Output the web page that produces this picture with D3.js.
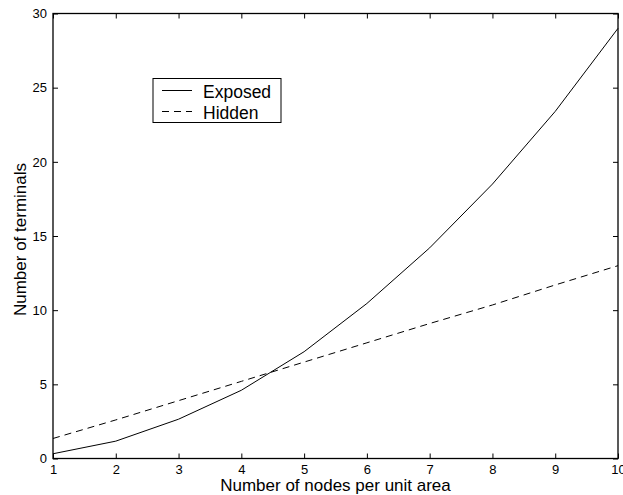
<!DOCTYPE html>
<html>
<head>
<meta charset="utf-8">
<script src="https://cdn.jsdelivr.net/npm/d3@7"></script>
<style>
  body { margin: 0; background: #fff; }
  text { font-family: "Liberation Sans", Arial, sans-serif; fill: #000; }
</style>
</head>
<body>
<div id="chart"></div>
<script>
const nodes = [1, 2, 3, 4, 5, 6, 7, 8, 9, 10];
const exposed = [0.32, 1.17, 2.65, 4.6, 7.2, 10.45, 14.2, 18.5, 23.4, 29.0];
const hidden = [1.35, 2.6, 3.9, 5.2, 6.5, 7.8, 9.1, 10.35, 11.7, 13.0];
const xTicks = [1, 2, 3, 4, 5, 6, 7, 8, 9, 10];
const yTicks = [0, 5, 10, 15, 20, 25, 30];

const width = 623;
const height = 495;
const margin = { top: 13.5, left: 53, bottom: 36.5, right: 5 };

const svg = d3
  .select("#chart")
  .append("svg")
  .attr("width", width)
  .attr("height", height);

const x = d3
  .scaleLinear()
  .domain([1, 10])
  .range([margin.left, width - margin.right]);

const y = d3
  .scaleLinear()
  .domain([0, 30])
  .range([height - margin.bottom, margin.top]);

// frame
svg
  .append("rect")
  .attr("x", x(1))
  .attr("y", y(30))
  .attr("width", x(10) - x(1))
  .attr("height", y(0) - y(30))
  .attr("fill", "none")
  .attr("stroke", "#000")
  .attr("stroke-width", 1.3);

// inward ticks on all four sides
const tickLen = 5;
const axisStyle = (g) => {
  g.select(".domain").remove();
  g.selectAll(".tick line").attr("stroke", "#000");
};

svg
  .append("g")
  .attr("transform", `translate(0,${y(0)})`)
  .call(d3.axisBottom(x).tickValues(xTicks).tickSize(-tickLen).tickPadding(6).tickFormat(d3.format("d")))
  .call(axisStyle)
  .selectAll("text")
  .style("font-size", "13px");

svg
  .append("g")
  .attr("transform", `translate(0,${y(30)})`)
  .call(d3.axisTop(x).tickValues(xTicks).tickSize(-tickLen).tickFormat(""))
  .call(axisStyle);

svg
  .append("g")
  .attr("transform", `translate(${x(1)},0)`)
  .call(d3.axisLeft(y).tickValues(yTicks).tickSize(-tickLen).tickPadding(6).tickFormat(d3.format("d")))
  .call(axisStyle)
  .selectAll("text")
  .style("font-size", "13px");

svg
  .append("g")
  .attr("transform", `translate(${x(10)},0)`)
  .call(d3.axisRight(y).tickValues(yTicks).tickSize(-tickLen).tickFormat(""))
  .call(axisStyle);

svg.selectAll(".tick text").attr("fill", "#000").style("font-family", "'Liberation Sans', Arial, sans-serif");

// lines
const line = (vals) =>
  d3
    .line()
    .x((d, i) => x(nodes[i]))
    .y((d) => y(d))(vals);

svg
  .append("path")
  .attr("d", line(exposed))
  .attr("fill", "none")
  .attr("stroke", "#000")
  .attr("stroke-width", 1);

svg
  .append("path")
  .attr("d", line(hidden))
  .attr("fill", "none")
  .attr("stroke", "#000")
  .attr("stroke-width", 1)
  .attr("stroke-dasharray", "7,5");

// legend
const lg = svg.append("g").attr("transform", "translate(153,78.5)");
lg.append("rect")
  .attr("width", 128)
  .attr("height", 44)
  .attr("fill", "#fff")
  .attr("stroke", "#000")
  .attr("stroke-width", 1);

const legendItems = [
  { name: "Exposed", dash: null },
  { name: "Hidden", dash: "7,5" },
];
legendItems.forEach((d, i) => {
  const cy = 12 + i * 21;
  lg.append("line")
    .attr("x1", 9)
    .attr("x2", 39)
    .attr("y1", cy)
    .attr("y2", cy)
    .attr("stroke", "#000")
    .attr("stroke-dasharray", d.dash);
  lg.append("text")
    .attr("x", 50)
    .attr("y", cy + 1)
    .attr("dominant-baseline", "central")
    .style("font-size", "17.5px")
    .text(d.name);
});

// axis labels
svg
  .append("text")
  .attr("text-anchor", "middle")
  .attr("x", (x(1) + x(10)) / 2)
  .attr("y", 491)
  .style("font-size", "17px")
  .text("Number of nodes per unit area");

svg
  .append("text")
  .attr("text-anchor", "middle")
  .attr("transform", `translate(26,239.5) rotate(-90)`)
  .style("font-size", "17px")
  .text("Number of terminals");
</script>
</body>
</html>
